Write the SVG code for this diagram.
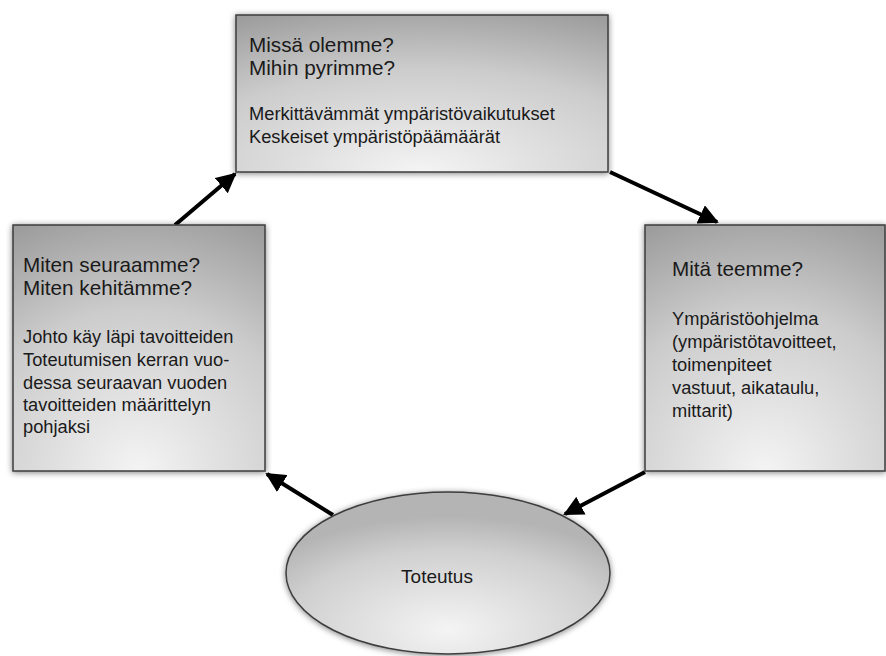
<svg xmlns="http://www.w3.org/2000/svg" width="886" height="656" viewBox="0 0 886 656">
<style>
.box{stroke:#3c3c3c;stroke-width:1.5;filter:url(#sh)}
.t{font-family:"Liberation Sans",Arial,sans-serif;fill:#1a1a1a}
.h{font-size:20.7px}
.b{font-size:18.3px}
.arr{stroke:#000;stroke-width:4;fill:none;marker-end:url(#ah)}
</style>
<defs>
<radialGradient id="g" cx="50%" cy="100%" r="110%" fx="50%" fy="100%">
<stop offset="0" stop-color="#f4f4f4"/>
<stop offset="0.6" stop-color="#cccccc"/>
<stop offset="1" stop-color="#9c9c9c"/>
</radialGradient>
<radialGradient id="ge" cx="50%" cy="85%" r="70%" fx="50%" fy="85%">
<stop offset="0" stop-color="#f4f4f4"/>
<stop offset="0.7" stop-color="#d0d0d0"/>
<stop offset="1" stop-color="#b4b4b4"/>
</radialGradient>
<filter id="sh" x="-10%" y="-10%" width="120%" height="120%">
<feGaussianBlur in="SourceAlpha" stdDeviation="3"/>
<feOffset dx="0" dy="1" result="b"/>
<feComponentTransfer><feFuncA type="linear" slope="0.5"/></feComponentTransfer>
<feMerge><feMergeNode/><feMergeNode in="SourceGraphic"/></feMerge>
</filter>
<marker id="ah" markerWidth="5" markerHeight="5" refX="4.5" refY="2.5" orient="auto" markerUnits="strokeWidth">
<path d="M0,0 L5,2.5 L0,5 Z" fill="#000"/>
</marker>
</defs>
<g id="connectors">
<line class="arr" x1="175" y1="225" x2="235" y2="174"/>
<line class="arr" x1="610" y1="172" x2="717" y2="222"/>
<line class="arr" x1="645" y1="472" x2="565" y2="514"/>
<line class="arr" x1="333" y1="515" x2="267" y2="474"/>
</g>
<g id="top">
<rect class="box" x="236" y="15" width="372" height="157" fill="url(#g)"/>
<text class="t h" x="249" y="52">Missä olemme?</text>
<text class="t h" x="249" y="75">Mihin pyrimme?</text>
<text class="t b" x="249" y="120">Merkittävämmät ympäristövaikutukset</text>
<text class="t b" x="249" y="143">Keskeiset ympäristöpäämäärät</text>
</g>
<g id="left">
<rect class="box" x="13" y="225" width="252" height="246" fill="url(#g)"/>
<text class="t h" x="23" y="272">Miten seuraamme?</text>
<text class="t h" x="23" y="295">Miten kehitämme?</text>
<text class="t b" x="23" y="343">Johto käy läpi tavoitteiden</text>
<text class="t b" x="23" y="366">Toteutumisen kerran vuo-</text>
<text class="t b" x="23" y="389">dessa seuraavan vuoden</text>
<text class="t b" x="23" y="411">tavoitteiden määrittelyn</text>
<text class="t b" x="23" y="433">pohjaksi</text>
</g>
<g id="right">
<rect class="box" x="645" y="225" width="240" height="246" fill="url(#g)"/>
<text class="t h" x="672" y="276">Mitä teemme?</text>
<text class="t b" x="672" y="325">Ympäristöohjelma</text>
<text class="t b" x="672" y="348">(ympäristötavoitteet,</text>
<text class="t b" x="672" y="371">toimenpiteet</text>
<text class="t b" x="672" y="394">vastuut, aikataulu,</text>
<text class="t b" x="672" y="417">mittarit)</text>
</g>
<g id="ellipse">
<ellipse class="box" cx="448" cy="573" rx="162" ry="81" fill="url(#ge)"/>
<text class="t" x="437" y="583" text-anchor="middle" font-size="19px">Toteutus</text>
</g>
</svg>
